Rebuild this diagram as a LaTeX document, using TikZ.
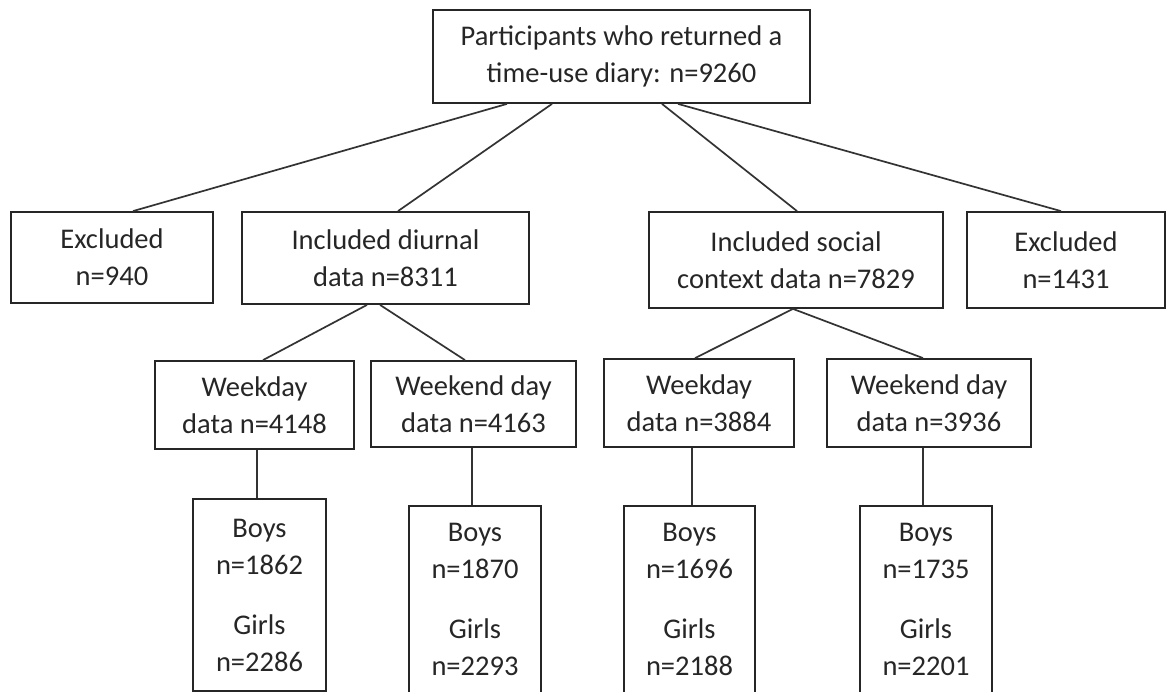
\documentclass[tikz,border=0pt]{standalone}
\usepackage{fontspec}
\setmainfont{Carlito}
\begin{document}
\begin{tikzpicture}[x=1pt,y=-1pt,
  box/.style={draw=black!85, line width=1.8pt, inner sep=0pt, align=center,
    text=black!85, font=\fontsize{28.5}{37}\selectfont},
  link/.style={draw=black!80, line width=1.7pt}]
\useasboundingbox[fill=white] (0,0) rectangle (1176,692);
\newcommand\mybox[6]{\node[box, minimum width={#4-#2}, minimum height={#5-#3}] (#1) at ({(#2+#4)/2},{(#3+#5)/2}) {#6};}
\mybox{top}{433}{10}{810}{103}{Participants who returned a\\time-use diary: n=9260}
\mybox{exl}{11}{212}{213}{303}{Excluded\\n=940}
\mybox{dirn}{242}{212}{529}{304}{Included diurnal\\data n=8311}
\mybox{soc}{649}{212}{943}{308}{Included social\\context data n=7829}
\mybox{exr}{967}{212}{1165}{308}{Excluded\\n=1431}
\mybox{wda}{155}{361}{354}{449}{Weekday\\data n=4148}
\mybox{wea}{371}{361}{576}{447}{Weekend day\\data n=4163}
\mybox{wdb}{604}{359}{794}{447}{Weekday\\data n=3884}
\mybox{web}{827}{359}{1031}{447}{Weekend day\\data n=3936}
\mybox{ba}{193}{499}{326}{691}{Boys\\n=1862\\[23pt]Girls\\n=2286}
\mybox{bb}{409}{506}{541}{693}{Boys\\n=1870\\[23pt]Girls\\n=2293}
\mybox{bc}{624}{506}{755}{693}{Boys\\n=1696\\[23pt]Girls\\n=2188}
\mybox{bd}{860}{506}{992}{693}{Boys\\n=1735\\[23pt]Girls\\n=2201}
\draw[link] ([xshift=-114.5pt]top.south) -- ([xshift=21pt]exl.north);
\draw[link] ([xshift=-69.5pt]top.south) -- ([xshift=12.5pt]dirn.north);
\draw[link] ([xshift=40.5pt]top.south) -- ([xshift=1pt]soc.north);
\draw[link] ([xshift=56.5pt]top.south) -- ([xshift=-5pt]exr.north);
\draw[link] ([xshift=-18.5pt]dirn.south) -- ([xshift=8.5pt]wda.north);
\draw[link] ([xshift=-5.5pt]dirn.south) -- ([xshift=-8.5pt]wea.north);
\draw[link] ([xshift=-3pt]soc.south) -- ([xshift=-4pt]wdb.north);
\draw[link] ([xshift=-3pt]soc.south) -- ([xshift=-6pt]web.north);
\draw[link] ([xshift=2.5pt]wda.south) -- ([xshift=-2.5pt]ba.north);
\draw[link] ([xshift=-1.5pt]wea.south) -- ([xshift=-3pt]bb.north);
\draw[link] ([xshift=-7pt]wdb.south) -- ([xshift=2.5pt]bc.north);
\draw[link] ([xshift=-6pt]web.south) -- ([xshift=-3pt]bd.north);
\end{tikzpicture}
\end{document}
